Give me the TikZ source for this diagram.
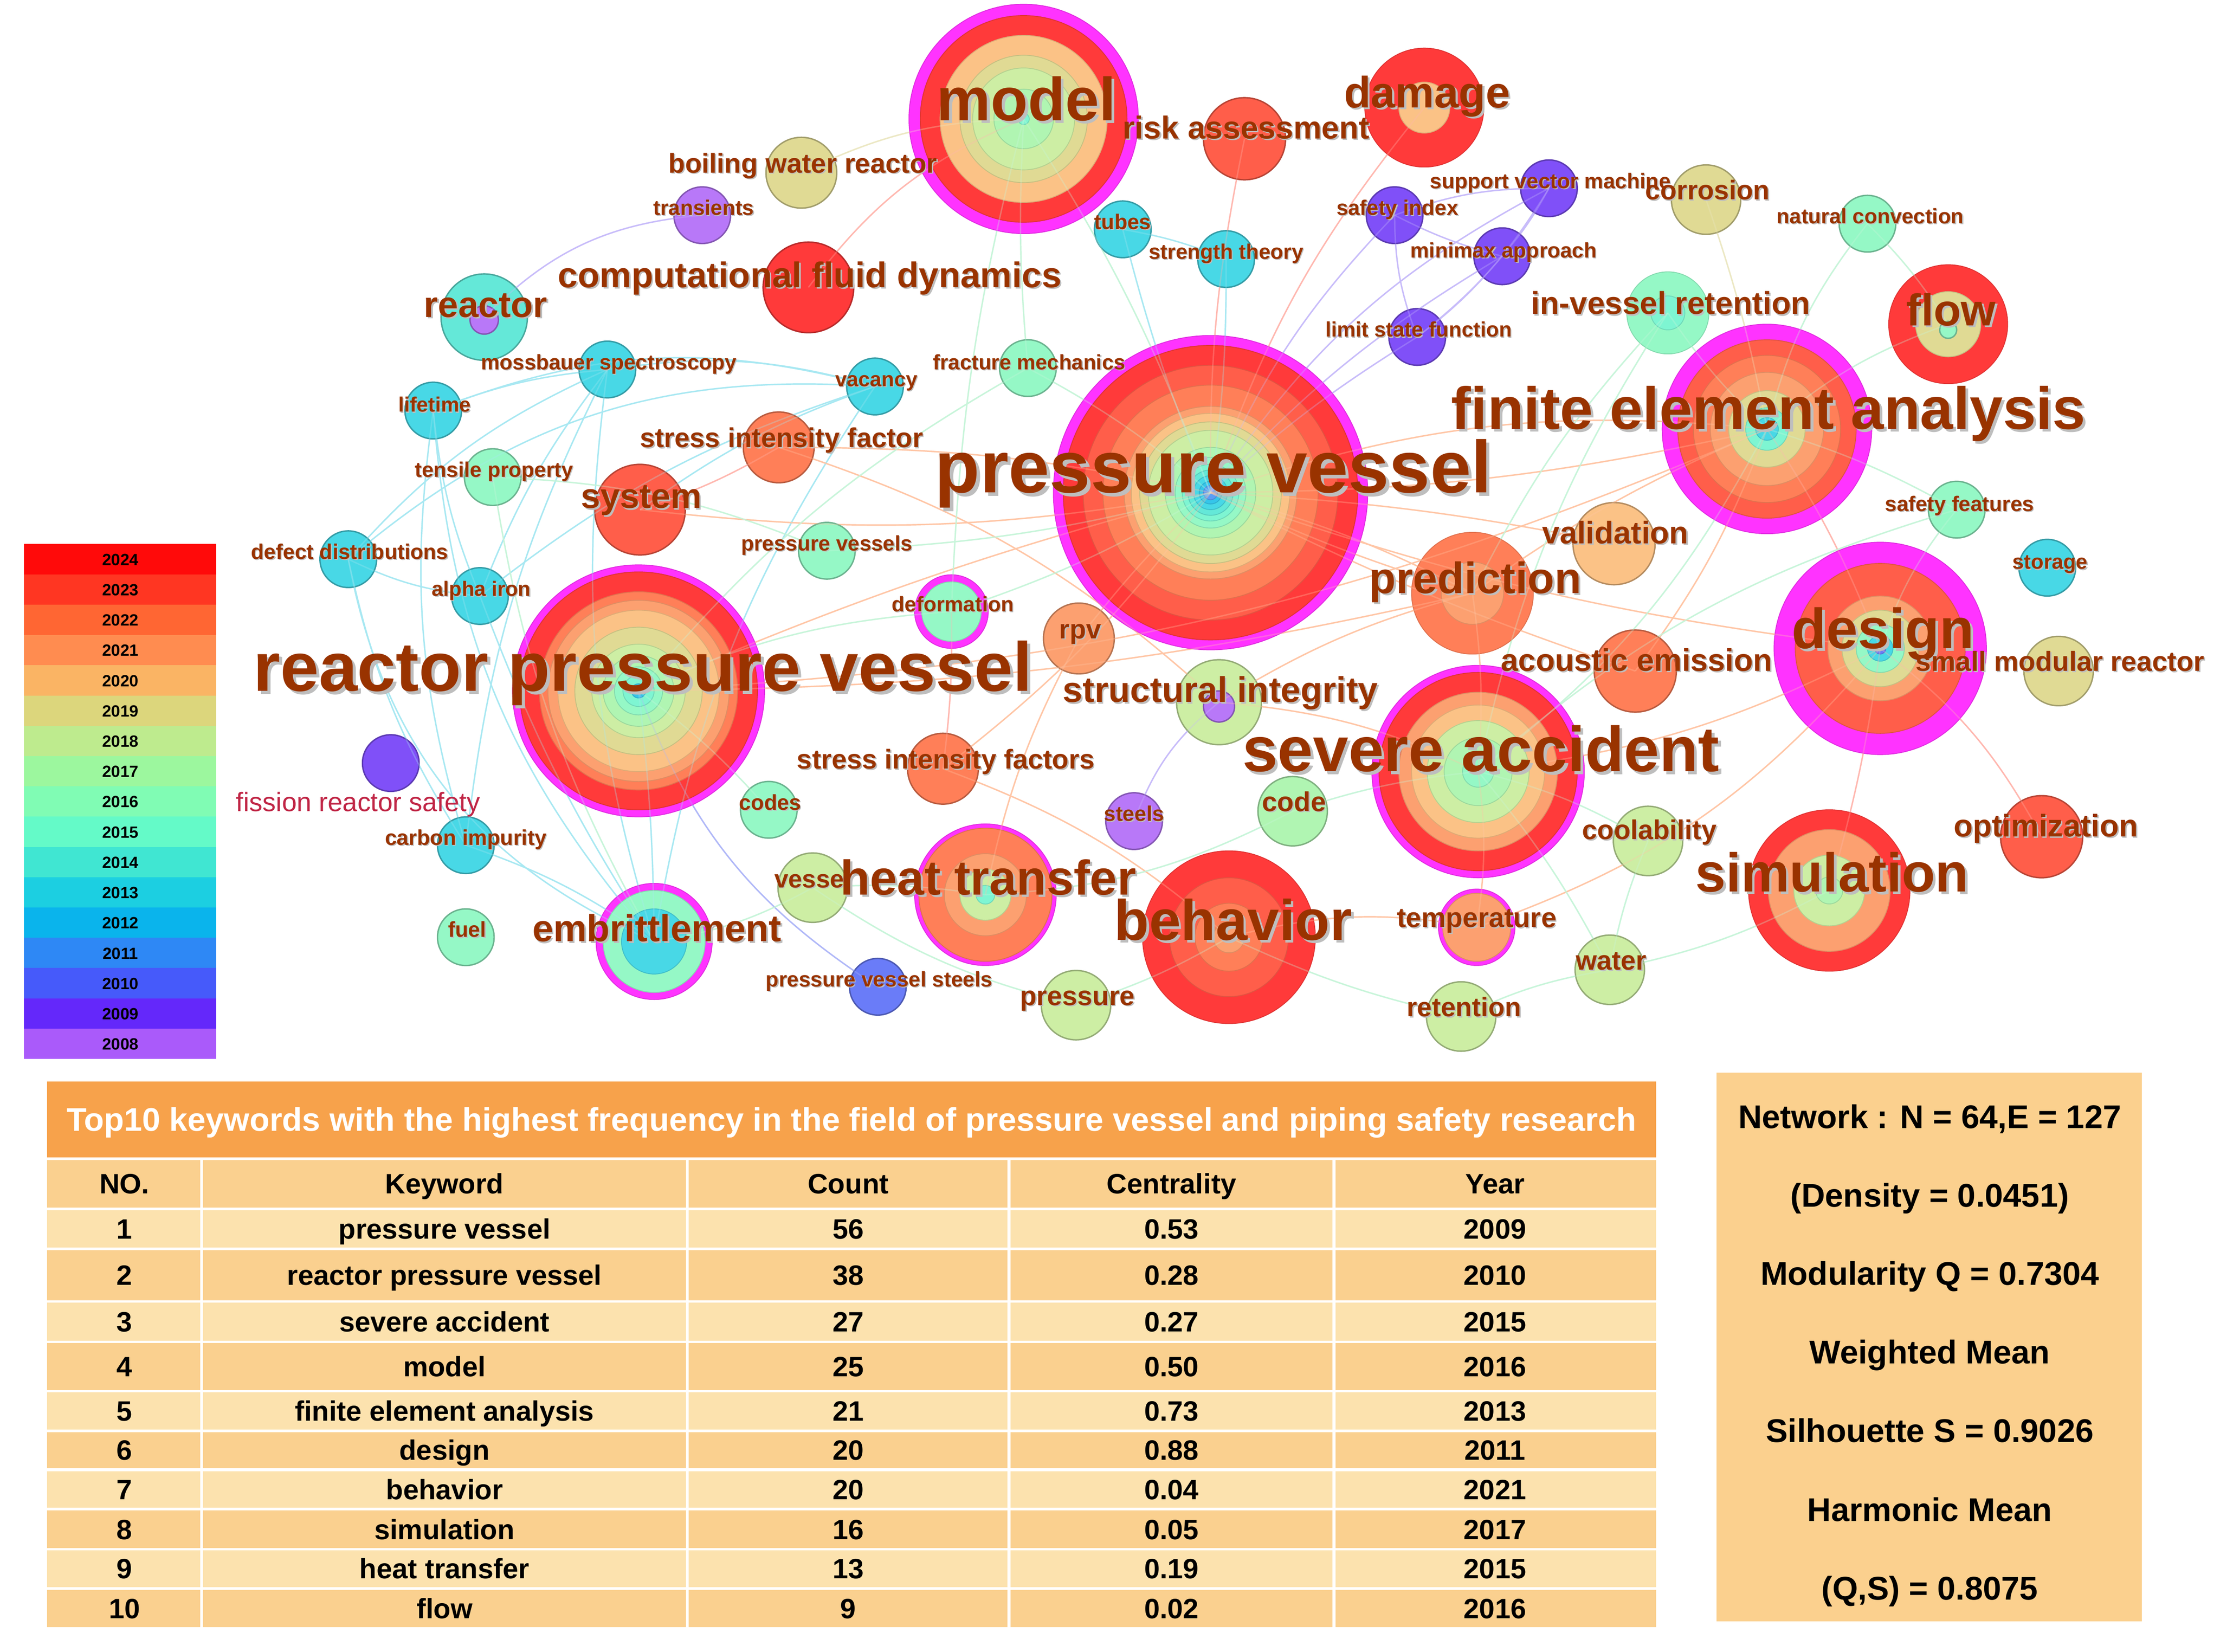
\documentclass[tikz,border=0pt]{standalone}
\usepackage{fontspec}
\setmainfont{Liberation Sans}
\definecolor{kbrown}{HTML}{993300}
\definecolor{kshade}{HTML}{BEBEBE}
\definecolor{frsred}{HTML}{C02545}
\definecolor{mag}{HTML}{FF33FF}
\definecolor{c24}{HTML}{FF3A3A}
\definecolor{c23}{HTML}{FF5E4A}
\definecolor{c22}{HTML}{FF7F58}
\definecolor{c21}{HTML}{FCA070}
\definecolor{c20}{HTML}{FBC286}
\definecolor{c19}{HTML}{E0DA94}
\definecolor{c18}{HTML}{CDEEA4}
\definecolor{c17}{HTML}{B0F5B2}
\definecolor{c16}{HTML}{95F8C6}
\definecolor{c15}{HTML}{7EF5D2}
\definecolor{c14}{HTML}{64E8D8}
\definecolor{c13}{HTML}{48D8E6}
\definecolor{c12}{HTML}{35C5EA}
\definecolor{c11}{HTML}{5A9EF5}
\definecolor{c10}{HTML}{6A7CF8}
\definecolor{c09}{HTML}{8050F8}
\definecolor{c08}{HTML}{B878F8}
\definecolor{L24}{HTML}{FF0A0A}
\definecolor{L23}{HTML}{FF3622}
\definecolor{L22}{HTML}{FF6633}
\definecolor{L21}{HTML}{FF8C50}
\definecolor{L20}{HTML}{FAB464}
\definecolor{L19}{HTML}{DCD67C}
\definecolor{L18}{HTML}{BEEB8E}
\definecolor{L17}{HTML}{9CF79E}
\definecolor{L16}{HTML}{80FCB4}
\definecolor{L15}{HTML}{64FAC8}
\definecolor{L14}{HTML}{40E6D2}
\definecolor{L13}{HTML}{1CCFE1}
\definecolor{L12}{HTML}{0AB4EC}
\definecolor{L11}{HTML}{2E88F5}
\definecolor{L10}{HTML}{465AFA}
\definecolor{L09}{HTML}{6428FA}
\definecolor{L08}{HTML}{AA5AFA}
\definecolor{ecyan}{HTML}{A8E8F2}
\definecolor{ered}{HTML}{FFB8B0}
\definecolor{eora}{HTML}{FFC6A6}
\definecolor{epur}{HTML}{C8BCFA}
\definecolor{eblu}{HTML}{B0B8F8}
\definecolor{egrn}{HTML}{C8F5DA}
\definecolor{ekha}{HTML}{ECE8C4}
\definecolor{thead}{HTML}{F7A24B}
\definecolor{tdark}{HTML}{FAD08F}
\definecolor{tlight}{HTML}{FCE2AE}
\definecolor{sbox}{HTML}{FBD08E}
\newcommand{\kfont}[1]{\fontsize{#1}{#1}\selectfont\bfseries}
\newcommand{\mynode}[4]{\filldraw[fill=#4,draw=#4!72!black,line width=1pt] (#1,#2) circle (#3);}
\newcommand{\myrings}[3]{\foreach \rr/\cc in {#3}{\filldraw[fill=\cc,draw=\cc!88!black,line width=0.6pt] (#1,#2) circle (\rr);}}
\newcommand{\mylab}[5]{%
  \node[kshadow,font={\kfont{#4}},xshift={#4*0.045pt},yshift={-#4*0.045pt}] at (#2,#3) {#5};
  \node[klab,font={\kfont{#4}}] (#1l) at (#2,#3) {#5};}
\newcommand{\myrow}[9]{%
  \fill[#4] (33.3,#2) rectangle (1169.6,#3);
  \pgfmathsetmacro{\by}{(#2+#3)/2+7}
  \node[tcell] (#1a) at (87.85,\by) {#5};
  \node[tcell] (#1b) at (313.95,\by) {#6};
  \node[tcell] (#1c) at (599.1,\by) {#7};
  \node[tcell] (#1d) at (827.45,\by) {#8};
  \node[tcell] (#1e) at (1055.9,\by) {#9};}
\newcommand{\alledges}{%
\draw[eCy] (life) to[bend left=18] (vac);
\draw[eCy] (moss) to[bend left=12] (vac);
\draw[eCy] (dd) to[bend left=22] (vac);
\draw[eCy] (life) to[bend left=8] (moss);
\draw[eCy] (dd) to[bend left=12] (moss);
\draw[eCy] (dd) to[bend right=10] (alpha);
\draw[eCy] (dd) to[bend right=28] (emb);
\draw[eCy] (life) to[bend right=18] (emb);
\draw[eCy] (life) to[bend right=12] (carb);
\draw[eCy] (moss) to[bend right=12] (emb);
\draw[eCy] (alpha) to[bend right=6] (emb);
\draw[eCy] (vac) to[bend right=12] (emb);
\draw[eCy] (carb) to[bend left=8] (emb);
\draw[eCy] (rpvv) to[bend left=3] (emb);
\draw[eCy] (moss) to[bend right=8] (alpha);
\draw[eCy] (vac) to[bend right=10] (alpha);
\draw[eCy] (vac) to[bend right=8] (sys);
\draw[eCy] (tubes) to[bend right=4] (pv);
\draw[eCy] (str) to[bend left=4] (pv);
\draw[eCy] (tubes) to[bend left=6] (str);
\draw[eCy] (life) to[bend right=8] (alpha);
\draw[eCy] (dd) to[bend right=10] (carb);
\draw[eCy] (moss) to[bend right=10] (carb);
\draw[ePu] (trans) to[bend right=20] (reac);
\draw[ePu] (si) to[bend right=10] (pv);
\draw[ePu] (svm) to[bend right=14] (pv);
\draw[ePu] (mini) to[bend right=8] (pv);
\draw[ePu] (lsf) to[bend right=5] (pv);
\draw[ePu] (si) to[bend left=10] (svm);
\draw[ePu] (si) to[bend right=6] (mini);
\draw[ePu] (si) to[bend right=10] (lsf);
\draw[ePu] (svm) to[bend left=6] (mini);
\draw[ePu] (svm) to[bend left=10] (lsf);
\draw[ePu] (mini) to[bend left=6] (lsf);
\draw[ePu] (steels) to[bend left=15] (sint);
\draw[eBl] (pvst) to[bend left=18] (rpvv);
\draw[eRd] (model) to[bend right=15] (cfd);
\draw[eRd] (risk) to[bend right=6] (pv);
\draw[eRd] (dmg) to[bend right=10] (pv);
\draw[eOr] (pv) to[bend left=12] (fea);
\draw[eOr] (pv) to[bend right=6] (fea);
\draw[eOr] (pv) to[bend left=6] (pred);
\draw[eOr] (pv) to[bend right=4] (pred);
\draw[eOr] (pv) to[bend right=6] (des);
\draw[eOr] (pv) to[bend left=4] (val);
\draw[eOr] (pv) to[bend right=4] (ae);
\draw[eOr] (rpvv) to[bend left=4] (pv);
\draw[eOr] (rpvv) to[bend right=10] (fea);
\draw[eOr] (rpvv) to[bend right=6] (pred);
\draw[eRd] (sif) to[bend left=6] (sys);
\draw[eOr] (sif) to[bend left=6] (pv);
\draw[eOr] (sys) to[bend right=8] (pv);
\draw[eOr] (sif) to[bend left=12] (sint);
\draw[eOr] (pv) to[bend left=8] (sifs);
\draw[eOr] (rpv) to[bend right=8] (ht);
\draw[eOr] (pred) to[bend right=8] (sint);
\draw[eOr] (pred) to[bend left=6] (sa);
\draw[eOr] (sa) to[bend left=8] (temp);
\draw[eOr] (beh) to[bend left=12] (temp);
\draw[eRd] (des) to[bend left=4] (sim);
\draw[eRd] (des) to[bend left=12] (opt);
\draw[eRd] (fea) to[bend left=6] (des);
\draw[eOr] (fea) to[bend right=6] (pred);
\draw[eOr] (fea) to[bend left=8] (ae);
\draw[eOr] (temp) to[bend right=15] (des);
\draw[eRd] (def) to[bend left=4] (sifs);
\draw[eOr] (rpv) to[bend left=4] (pv);
\draw[eOr] (sifs) to[bend left=10] (beh);
\draw[eOr] (sa) to[bend right=10] (des);
\draw[eOr] (sint) to[bend left=10] (sa);
\draw[eKh] (bwr) to[bend left=12] (model);
\draw[eKh] (corr) to[bend left=4] (fea);
\draw[eGr] (model) to[bend right=4] (frac);
\draw[eGr] (model) to[bend right=6] (def);
\draw[eGr] (model) to[bend left=6] (pv);
\draw[eGr] (frac) to[bend left=6] (pv);
\draw[eGr] (fea) to[bend left=6] (ivr);
\draw[eGr] (fea) to[bend left=10] (flow);
\draw[eGr] (nat) to[bend right=12] (fea);
\draw[eGr] (nat) to[bend left=6] (flow);
\draw[eGr] (fea) to[bend left=6] (sf);
\draw[eGr] (des) to[bend left=10] (sf);
\draw[eGr] (sa) to[bend left=10] (ivr);
\draw[eGr] (sa) to[bend left=8] (cool);
\draw[eGr] (sa) to[bend right=6] (code);
\draw[eGr] (code) to[bend left=12] (ht);
\draw[eGr] (sa) to[bend left=6] (water);
\draw[eGr] (water) to[bend right=8] (ret);
\draw[eGr] (water) to[bend left=6] (cool);
\draw[eGr] (ret) to[bend left=6] (beh);
\draw[eGr] (press) to[bend right=6] (beh);
\draw[eGr] (press) to[bend left=10] (vessel);
\draw[eGr] (ht) to[bend right=6] (vessel);
\draw[eGr] (codes) to[bend right=6] (rpvv);
\draw[eGr] (tens) to[bend right=10] (emb);
\draw[eGr] (tens) to[bend left=10] (pvss);
\draw[eGr] (def) to[bend right=6] (pv);
\draw[eGr] (pvss) to[bend right=6] (pv);
\draw[eGr] (ivr) to[bend right=8] (pred);
\draw[eGr] (sim) to[bend left=8] (water);
\draw[eGr] (sa) to[bend right=12] (fea);
\draw[eGr] (sa) to[bend left=12] (sf);
\draw[eGr] (vessel) to[bend left=10] (emb);
\draw[eGr] (rpvv) to[bend left=10] (def);
\draw[eGr] (frac) to[bend right=10] (rpvv);}
\begin{document}
\begin{tikzpicture}[x=1pt,y=-1pt,
  klab/.style={anchor=base,inner sep=0pt,text=kbrown},
  kshadow/.style={anchor=base,inner sep=0pt,text=kshade},
  tcell/.style={anchor=base,inner sep=0pt,font={\kfont{19.8}}},
  stxt/.style={anchor=base,inner sep=0pt,font={\kfont{23.2}}},
  eCy/.style={draw=ecyan,line width=1pt},
  eRd/.style={draw=ered,line width=1pt},
  eOr/.style={draw=eora,line width=1pt},
  ePu/.style={draw=epur,line width=1pt},
  eBl/.style={draw=eblu,line width=1pt},
  eGr/.style={draw=egrn,line width=1pt},
  eKh/.style={draw=ekha,line width=1pt}]
\fill[white] (0,0) rectangle (1568,1166.8);
\useasboundingbox (0,0) rectangle (1568,1166.8);
% ---------- node centres ----------
\coordinate (pv) at (855,348);
\coordinate (model) at (723,84);
\coordinate (dmg) at (1006,76);
\coordinate (risk) at (879,98);
\coordinate (bwr) at (566,122);
\coordinate (trans) at (496,152);
\coordinate (cfd) at (571,203);
\coordinate (reac) at (342,224);
\coordinate (moss) at (429,261);
\coordinate (life) at (306,290);
\coordinate (vac) at (618,273);
\coordinate (tubes) at (793,162);
\coordinate (str) at (866,183);
\coordinate (si) at (985,152);
\coordinate (svm) at (1094,133);
\coordinate (mini) at (1061,181);
\coordinate (lsf) at (1001,238);
\coordinate (corr) at (1205,141);
\coordinate (nat) at (1319,158);
\coordinate (ivr) at (1178,221);
\coordinate (flow) at (1376,229);
\coordinate (fea) at (1248,303);
\coordinate (sf) at (1382,360);
\coordinate (stor) at (1446,401);
\coordinate (val) at (1140,384);
\coordinate (pred) at (1040,419);
\coordinate (des) at (1328,458);
\coordinate (smr) at (1454,474);
\coordinate (ae) at (1155,474);
\coordinate (sa) at (1044,545);
\coordinate (sint) at (861,496);
\coordinate (rpv) at (762,451);
\coordinate (def) at (672,432);
\coordinate (pvss) at (584,389);
\coordinate (sif) at (550,316);
\coordinate (sys) at (452,360);
\coordinate (tens) at (348,337);
\coordinate (dd) at (246,395);
\coordinate (alpha) at (339,421);
\coordinate (rpvv) at (451,488);
\coordinate (frs) at (276,539);
\coordinate (carb) at (329,597);
\coordinate (fuel) at (329,662);
\coordinate (emb) at (462,665);
\coordinate (codes) at (543,572);
\coordinate (vessel) at (574,627);
\coordinate (ht) at (696,632);
\coordinate (pvst) at (620,697);
\coordinate (press) at (760,710);
\coordinate (steels) at (801,580);
\coordinate (code) at (913,573);
\coordinate (beh) at (868,662);
\coordinate (temp) at (1043,655);
\coordinate (ret) at (1032,718);
\coordinate (water) at (1137,685);
\coordinate (cool) at (1164,594);
\coordinate (sim) at (1292,629);
\coordinate (opt) at (1442,591);
\coordinate (sifs) at (666,543);
\coordinate (frac) at (726,260);
% ---------- edges (under the discs) ----------
\alledges
% ---------- node discs ----------
\myrings{855}{348}{111/mag,104/c24,90/c23,76/c22,61/c21,56/c20,50/c19,44/c18,32/c17,25/c16,20/c15,16/c14,12/c13,8/c12,5/c11}
\myrings{723}{84}{81/mag,73/c24,59/c20,45/c19,36/c18,21/c17,4/c15}
\myrings{1006}{76}{42/c24,18/c20}
\mynode{879}{98}{29}{c23}
\mynode{566}{122}{25}{c19}
\mynode{496}{152}{20}{c08}
\mynode{571}{203}{32}{c24}
\mynode{342}{224}{30.5}{c14}
\mynode{342}{226}{10}{c08}
\mynode{429}{261}{20}{c13}
\mynode{306}{290}{20}{c13}
\mynode{618}{273}{20}{c13}
\mynode{793}{162}{20}{c13}
\mynode{866}{183}{20}{c13}
\mynode{985}{152}{20}{c09}
\mynode{1094}{133}{20}{c09}
\mynode{1061}{181}{20}{c09}
\mynode{1001}{238}{20}{c09}
\mynode{1205}{141}{24.5}{c19}
\mynode{1319}{158}{20}{c16}
\myrings{1178}{221}{29/c16,12/c15}
\myrings{1376}{229}{42/c24,23/c19}
\mynode{1376}{233}{6}{c16}
\myrings{1248}{303}{74/mag,63/c23,52/c22,40/c21,27/c19,15/c15,8/c13}
\mynode{1382}{360}{20}{c16}
\mynode{1446}{401}{20}{c13}
\mynode{1140}{384}{29}{c20}
\myrings{1040}{419}{43/c22,22/c21}
\myrings{1328}{458}{75/mag,60/c23,37/c21,27/c19,17/c16,9/c13,4/c10}
\mynode{1454}{474}{24.5}{c19}
\mynode{1155}{474}{29}{c22}
\myrings{1044}{545}{75/mag,70/c24,56/c21,47/c20,36/c18,24/c17,11/c16}
\mynode{861}{496}{30}{c18}
\mynode{861}{499}{11}{c08}
\mynode{762}{451}{25}{c21}
\myrings{672}{432}{26/mag,21/c16}
\mynode{584}{389}{20}{c16}
\mynode{550}{316}{25}{c22}
\mynode{452}{360}{32}{c23}
\mynode{348}{337}{20}{c16}
\mynode{246}{395}{20}{c13}
\mynode{339}{421}{20}{c13}
\myrings{451}{488}{89/mag,84/c24,70/c22,64/c21,57/c20,45/c19,33/c18,25/c17,17/c16,11/c15,5/c12}
\mynode{276}{539}{20}{c09}
\mynode{329}{597}{20}{c13}
\mynode{329}{662}{20}{c16}
\myrings{462}{665}{41/mag,36/c16,23/c13}
\mynode{543}{572}{20}{c16}
\mynode{574}{627}{24.5}{c18}
\myrings{696}{632}{50/mag,47/c22,29/c21,18/c18,6.6/c15}
\mynode{620}{697}{20}{c10}
\mynode{760}{710}{24.5}{c18}
\mynode{801}{580}{20}{c08}
\mynode{913}{573}{24.5}{c17}
\myrings{868}{662}{61/c24,42/c23,24/c22,11/c21}
\myrings{1043}{655}{27/mag,24/c21}
\mynode{1032}{718}{24.5}{c18}
\mynode{1137}{685}{24.5}{c18}
\mynode{1164}{594}{24.5}{c18}
\myrings{1292}{629}{57/c24,43/c21,25/c18,9.5/c17}
\mynode{1442}{591}{29}{c23}
\mynode{666}{543}{25}{c22}
\mynode{726}{260}{20}{c16}
% ---------- faint edges seen through the discs ----------
\begin{scope}[opacity=0.3]
\alledges
\end{scope}
% ---------- labels ----------
\mylab{pv}{857}{348}{52}{pressure vessel}
\mylab{model}{725}{85}{43}{model}
\mylab{dmg}{1008}{76}{31}{damage}
\mylab{risk}{880}{98}{22.4}{risk assessment}
\mylab{bwr}{567}{122}{19.3}{boiling water reactor}
\mylab{trans}{497}{152}{14.9}{transients}
\mylab{cfd}{572}{203}{25.2}{computational fluid dynamics}
\mylab{reac}{343}{224}{25.7}{reactor}
\mylab{moss}{430}{261}{14.9}{mossbauer spectroscopy}
\mylab{life}{307}{291}{14.6}{lifetime}
\mylab{vac}{619}{273}{14.7}{vacancy}
\mylab{tubes}{793}{162}{15}{tubes}
\mylab{str}{866}{183}{14.9}{strength theory}
\mylab{si}{987}{152}{14.9}{safety index}
\mylab{svm}{1095}{133}{15}{support vector machine}
\mylab{mini}{1062}{182}{14.9}{minimax approach}
\mylab{lsf}{1002}{238}{14.8}{limit state function}
\mylab{corr}{1206}{141}{19.1}{corrosion}
\mylab{nat}{1321}{158}{14.85}{natural convection}
\mylab{ivr}{1180}{222}{22.3}{in-vessel retention}
\mylab{flow}{1378}{230}{31.5}{flow}
\mylab{fea}{1249}{303}{42}{finite element analysis}
\mylab{sf}{1384}{361}{14.9}{safety features}
\mylab{stor}{1448}{402}{14.7}{storage}
\mylab{val}{1141}{384}{22.1}{validation}
\mylab{pred}{1042}{419}{31}{prediction}
\mylab{des}{1330}{458}{40}{design}
\mylab{smr}{1455}{474}{19.5}{small modular reactor}
\mylab{ae}{1156}{474}{22.1}{acoustic emission}
\mylab{sa}{1046}{545}{44.9}{severe accident}
\mylab{sint}{862}{496}{25.2}{structural integrity}
\mylab{rpv}{763}{451}{19}{rpv}
\mylab{def}{673}{432}{14.9}{deformation}
\mylab{pvss}{584}{389}{14.9}{pressure vessels}
\mylab{sif}{552}{316}{19.25}{stress intensity factor}
\mylab{sys}{453}{359}{24.7}{system}
\mylab{tens}{349}{337}{14.9}{tensile property}
\mylab{dd}{247}{395}{15}{defect distributions}
\mylab{alpha}{340}{421}{14.6}{alpha iron}
\mylab{rpvv}{454}{488}{49}{reactor pressure vessel}
\mylab{carb}{329}{597}{15.1}{carbon impurity}
\mylab{fuel}{330}{662}{15.2}{fuel}
\mylab{emb}{464}{665}{26.6}{embrittlement}
\mylab{codes}{544}{572}{15.2}{codes}
\mylab{vessel}{574}{627}{17.7}{vessel}
\mylab{ht}{698}{632}{34.5}{heat transfer}
\mylab{pvst}{621}{697}{15}{pressure vessel steels}
\mylab{press}{761}{710}{19.2}{pressure}
\mylab{steels}{801}{580}{15}{steels}
\mylab{code}{914}{573}{19.3}{code}
\mylab{beh}{871}{664}{40.3}{behavior}
\mylab{temp}{1043}{655}{19.5}{temperature}
\mylab{ret}{1034}{718}{18.9}{retention}
\mylab{water}{1138}{685}{19.1}{water}
\mylab{cool}{1165}{593}{19.2}{coolability}
\mylab{sim}{1294}{630}{38.6}{simulation}
\mylab{opt}{1445}{591}{22.1}{optimization}
\mylab{sifs}{668}{543}{19.2}{stress intensity factors}
\mylab{frac}{727}{261}{14.8}{fracture mechanics}
\node[anchor=base,inner sep=0pt,text=frsred,font={\fontsize{18.8}{18.8}\selectfont}] (frsl) at (253,573) {fission reactor safety};
% ---------- legend ----------
\foreach \yr/\col [count=\i from 0] in {2024/L24,2023/L23,2022/L22,2021/L21,2020/L20,2019/L19,2018/L18,2017/L17,2016/L16,2015/L15,2014/L14,2013/L13,2012/L12,2011/L11,2010/L10,2009/L09,2008/L08}{
  \pgfmathsetmacro{\ya}{384.3+21.39*\i}
  \pgfmathsetmacro{\yb}{384.3+21.39*(\i+1)}
  \pgfmathsetmacro{\yt}{384.3+21.39*\i+15}
  \fill[\col] (17,\ya) rectangle (152.8,\yb);
  \node[anchor=base,inner sep=0pt,font={\kfont{11.5}}] (leg\yr) at (85,\yt) {\yr};
}
% ---------- table ----------
\fill[thead] (33.2,764) rectangle (1169.6,817.4);
\node[anchor=base,inner sep=0pt,text=white,font={\kfont{23.1}}] (ttitle) at (601.4,799) {Top10 keywords with the highest frequency in the field of pressure vessel and piping safety research};
\myrow{th}{819.4}{853.1}{tdark}{NO.}{Keyword}{Count}{Centrality}{Year}
\myrow{ta}{854.9}{881.3}{tlight}{1}{pressure vessel}{56}{0.53}{2009}
\myrow{tb}{883.1}{918.6}{tdark}{2}{reactor pressure vessel}{38}{0.28}{2010}
\myrow{tc}{920.2}{947.1}{tlight}{3}{severe accident}{27}{0.27}{2015}
\myrow{td}{948.7}{981.9}{tdark}{4}{model}{25}{0.50}{2016}
\myrow{te}{983.5}{1009.8}{tlight}{5}{finite element analysis}{21}{0.73}{2013}
\myrow{tf}{1011.6}{1037.2}{tdark}{6}{design}{20}{0.88}{2011}
\myrow{tg}{1039.3}{1065.1}{tlight}{7}{behavior}{20}{0.04}{2021}
\myrow{tk}{1067}{1093.5}{tdark}{8}{simulation}{16}{0.05}{2017}
\myrow{tm}{1095}{1121}{tlight}{9}{heat transfer}{13}{0.19}{2015}
\myrow{tn}{1123}{1149.3}{tdark}{10}{flow}{9}{0.02}{2016}
\foreach \xx in {142.4,485.5,712.7,942.2}{\draw[white,line width=2pt] (\xx,819) -- (\xx,1150);}
% ---------- statistics box ----------
\fill[sbox] (1212.3,757.5) rectangle (1512.9,1145.4);
\node[stxt] (st1) at (1363,797) {Network : N = 64,E = 127};
\node[stxt] (st2) at (1363,852.5) {(Density = 0.0451)};
\node[stxt] (st3) at (1363,907.6) {Modularity Q = 0.7304};
\node[stxt] (st4) at (1363,963.3) {Weighted Mean};
\node[stxt] (st5) at (1363,1018.8) {Silhouette S = 0.9026};
\node[stxt] (st6) at (1363,1074.6) {Harmonic Mean};
\node[stxt] (st7) at (1363,1130) {(Q,S) = 0.8075};
\end{tikzpicture}
\end{document}
